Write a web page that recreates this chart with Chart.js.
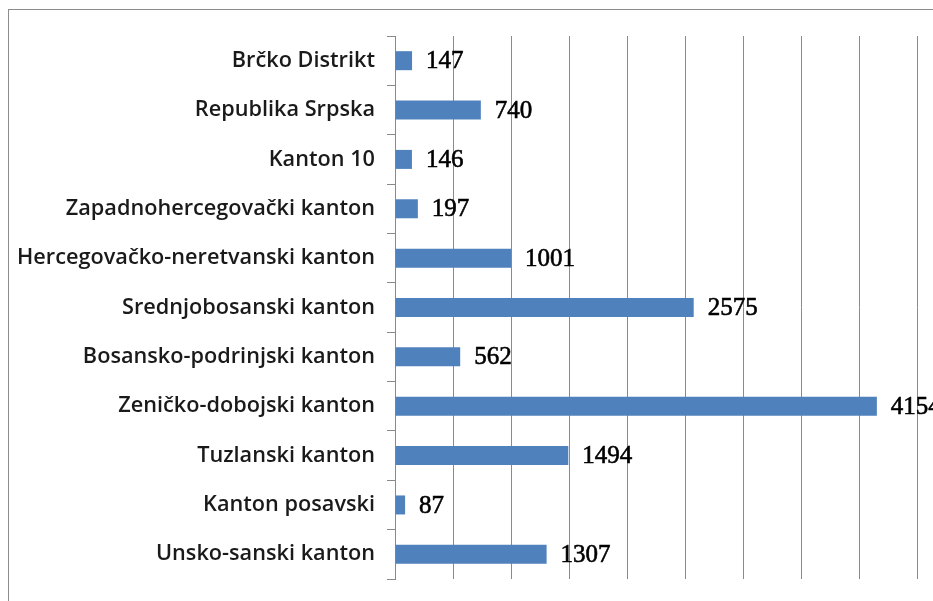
<!DOCTYPE html>
<html>
<head>
<meta charset="utf-8">
<script src="https://cdn.jsdelivr.net/npm/chart.js@4.4.0/dist/chart.umd.min.js"></script>
<style>
    html, body { margin: 0; padding: 0; background: #fff; }
    #wrap { position: relative; width: 933px; height: 601px; overflow: hidden; }
    #frame { position: absolute; left: 8px; top: 9px; width: 940px; height: 600px; border: 1px solid #8c8c8c; box-sizing: border-box; }
    canvas { position: absolute; left: 0; top: 0; }
</style>
</head>
<body>
<div id="wrap">
    <div id="frame"></div>
    <canvas id="kantonChart" width="933" height="601"></canvas>
</div>
<script>
// Podaci po kantonima / entitetima (od vrha prema dnu)
const kategorije = [
    'Brčko Distrikt',
    'Republika Srpska',
    'Kanton 10',
    'Zapadnohercegovački kanton',
    'Hercegovačko-neretvanski kanton',
    'Srednjobosanski kanton',
    'Bosansko-podrinjski kanton',
    'Zeničko-dobojski kanton',
    'Tuzlanski kanton',
    'Kanton posavski',
    'Unsko-sanski kanton'
];
const vrijednosti = [147, 740, 146, 197, 1001, 2575, 562, 4154, 1494, 87, 1307];
const osaMin = 0;
const osaMax = 4500;
const osaKorak = 500;

// Plugin za oznake vrijednosti desno od stupca
const oznakeVrijednosti = {
    id: 'oznakeVrijednosti',
    afterDatasetsDraw(chart) {
        const ctx = chart.ctx;
        const meta = chart.getDatasetMeta(0);
        ctx.save();
        ctx.font = '25px "Liberation Serif", serif';
        ctx.fillStyle = '#000';
        ctx.strokeStyle = '#000';
        ctx.lineWidth = 0.6;
        ctx.textAlign = 'left';
        ctx.textBaseline = 'middle';
        meta.data.forEach(function(bar, i) {
            const txt = String(vrijednosti[i]);
            ctx.fillText(txt, bar.x + 14, bar.y + 1);
            ctx.strokeText(txt, bar.x + 14, bar.y + 1);
        });
        ctx.restore();
    }
};

const chart = new Chart(document.getElementById('kantonChart'), {
    type: 'bar',
    data: {
        labels: kategorije,
        datasets: [{
            data: vrijednosti,
            backgroundColor: '#4F81BD',
            borderWidth: 0,
            categoryPercentage: 1,
            barPercentage: 0.385
        }]
    },
    options: {
        indexAxis: 'y',
        responsive: false,
        animation: false,
        layout: { padding: { top: 36, right: 16, bottom: 22, left: 0 } },
        plugins: {
            legend: { display: false },
            tooltip: { enabled: false }
        },
        scales: {
            x: {
                min: osaMin,
                max: osaMax,
                afterFit: function(scale) { scale.height = 0; },
                ticks: { display: false, stepSize: osaKorak },
                grid: { color: '#8a8a8a', lineWidth: 1, tickLength: 0, drawTicks: false },
                border: { display: false }
            },
            y: {
                afterFit: function(scale) {
                    scale.width = 395;
                    scale.paddingTop = 0;
                    scale.paddingBottom = 0;
                },
                ticks: {
                    color: '#1a1a1a',
                    font: { family: 'Open Sans', size: 21.7, weight: '600' },
                    padding: 12
                },
                grid: { display: true, drawOnChartArea: false, offset: true, tickLength: 8, color: '#8a8a8a' },
                border: { display: true, color: '#8a8a8a' }
            }
        }
    },
    plugins: [oznakeVrijednosti]
});
</script>
</body>
</html>
